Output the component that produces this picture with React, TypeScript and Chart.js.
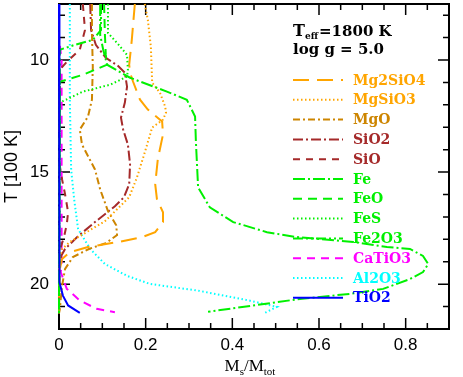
import React, { useEffect, useRef } from 'react';
import { Chart, registerables } from 'chart.js';

Chart.register(...registerables);

// ---------- data (T in 100 K, mass fraction Ms/Mtot) ----------
const T_MG2SIO4 = [7.5, 9.1, 10.21, 10.57, 10.97, 11.77, 12.21, 12.74, 13.32, 14.43, 15.54, 16.21, 16.79, 17.23, 17.68, 17.9, 18.12, 18.34, 18.57, 18.88, 19.32, 21.3];
const X_MG2SIO4 = [0.175, 0.168, 0.162, 0.164, 0.171, 0.187, 0.205, 0.238, 0.24, 0.228, 0.222, 0.226, 0.24, 0.24, 0.222, 0.192, 0.136, 0.067, 0.025, 0.007, 0.002, 0];

const T_MGSIO3 = [7.5, 8.21, 9.41, 11.01, 11.46, 12.08, 12.34, 12.66, 13.01, 14.12, 15.23, 16.12, 16.66, 17.19, 17.72, 18.12, 18.43, 18.79, 19.2, 21.3];
const X_MGSIO3 = [0.198, 0.205, 0.212, 0.215, 0.233, 0.245, 0.247, 0.24, 0.215, 0.198, 0.18, 0.162, 0.134, 0.106, 0.06, 0.025, 0.007, 0.002, 0, 0];

const T_MGO = [7.5, 8.79, 10.3, 11.77, 12.52, 13.1, 13.77, 14.88, 15.77, 16.74, 17.37, 17.81, 18.17, 18.43, 18.79, 19.32, 20.08, 21.1, 21.3];
const X_MGO = [0.076, 0.076, 0.078, 0.076, 0.067, 0.048, 0.053, 0.083, 0.095, 0.113, 0.132, 0.134, 0.108, 0.069, 0.032, 0.014, 0.007, 0.002, 0];

const T_SIO2 = [7.5, 8.66, 9.32, 9.9, 10.26, 10.57, 11.19, 11.9, 12.57, 13.1, 13.77, 14.66, 15.54, 16.12, 16.52, 17.23, 17.86, 18.43, 18.74, 19.1, 19.5, 21.3];
const X_SIO2 = [0.072, 0.074, 0.085, 0.108, 0.136, 0.152, 0.157, 0.152, 0.143, 0.148, 0.159, 0.164, 0.162, 0.15, 0.129, 0.083, 0.044, 0.014, 0.005, 0.002, 0, 0];

const T_SIO = [7.5, 8.66, 9.54, 10.08, 10.43, 14.5, 15.32, 15.99, 16.79, 17.32, 17.86, 18.3, 18.74, 21.3];
const X_SIO = [0.055, 0.06, 0.048, 0.018, 0.002, 0, 0.007, 0.014, 0.021, 0.018, 0.012, 0.005, 0, 0];

const T_FE = [7.5, 8.88, 9.54, 10.21, 10.79, 11.41, 11.77, 12.52, 13.68, 15.68, 16.57, 17.23, 17.68, 17.9, 18.12, 18.34, 18.43, 18.74, 19.1, 19.46, 19.77, 20.21, 20.43, 20.66, 21.23];
const X_FE = [0.095, 0.095, 0.102, 0.111, 0.164, 0.249, 0.295, 0.314, 0.316, 0.321, 0.348, 0.402, 0.48, 0.549, 0.679, 0.757, 0.81, 0.84, 0.852, 0.84, 0.81, 0.748, 0.672, 0.556, 0.344];

const T_FEO = [7.5, 8.88, 9.77, 10.21, 10.66, 10.97, 21.3];
const X_FEO = [0.104, 0.106, 0.108, 0.111, 0.055, 0.002, 0];

const T_FES = [7.5, 8.79, 9.28, 9.77, 10.43, 10.74, 11.1, 11.41, 11.9, 21.3];
const X_FES = [0.113, 0.113, 0.136, 0.157, 0.159, 0.157, 0.118, 0.055, 0.002, 0];

const T_FE2O3 = [7.5, 8.66, 9.1, 9.32, 9.54, 21.3];
const X_FE2O3 = [0.097, 0.097, 0.078, 0.037, 0.002, 0];

const T_CATIO3 = [7.5, 9.0, 10.0, 19.2, 19.46, 20.21, 20.73, 21.1, 21.25];
const X_CATIO3 = [0, 0, 0.006, 0.006, 0.004, 0.018, 0.048, 0.087, 0.129];

const T_AL2O3 = [7.5, 11.77, 14.88, 16.21, 17.54, 18.43, 19.1, 19.63, 19.99, 20.3, 20.74, 21.01, 21.32];
const X_AL2O3 = [0.025, 0.025, 0.028, 0.035, 0.044, 0.072, 0.106, 0.157, 0.21, 0.325, 0.441, 0.503, 0.471];

const T_TIO2 = [7.5, 19.7, 19.91, 20.51, 20.95, 21.28];
const X_TIO2 = [0, 0, 0.002, 0.009, 0.021, 0.048];

const SERIES_NAMES = ['Mg2SiO4', 'MgSiO3', 'MgO', 'SiO2', 'SiO', 'Fe', 'FeO', 'FeS', 'Fe2O3', 'CaTiO3', 'Al2O3', 'TiO2'];
const SERIES_T = [T_MG2SIO4, T_MGSIO3, T_MGO, T_SIO2, T_SIO, T_FE, T_FEO, T_FES, T_FE2O3, T_CATIO3, T_AL2O3, T_TIO2];
const SERIES_X = [X_MG2SIO4, X_MGSIO3, X_MGO, X_SIO2, X_SIO, X_FE, X_FEO, X_FES, X_FE2O3, X_CATIO3, X_AL2O3, X_TIO2];

const X_TICKS = [0, 0.2, 0.4, 0.6, 0.8];
const Y_TICKS = [10, 15, 20];
const X_MIN = 0, X_MAX = 0.9;
const Y_MIN = 7.5, Y_MAX = 22;
const TEFF_TEXT = '=1800 K';
const LOGG_TEXT = 'log g = 5.0';

// ---------- styles ----------
const ORANGE = '#ffa500';
const DKORANGE = '#cd8500';
const BROWN = '#a52a2a';
const GREEN = '#00f000';
const COLORS = [ORANGE, ORANGE, DKORANGE, BROWN, BROWN, GREEN, GREEN, GREEN, GREEN, '#ff00ff', '#00ffff', '#0000ff'];
const DASHES: number[][] = [
  [16, 8],
  [1.5, 2.5],
  [7, 3, 2, 3],
  [10, 3, 2, 3],
  [7, 6],
  [12, 3, 2, 3],
  [9, 6],
  [1.5, 2.5],
  [10, 3, 2, 3, 2, 3],
  [8, 6],
  [1.5, 2.5],
  [],
];
const DRAW_ORDER = [2, 2, 2, 2, 2, 1, 1, 1, 1, 3, 3, 0];

const framePlugin = {
  id: 'frameAndText',
  beforeDatasetsDraw(chart: any) {
    const { ctx, chartArea, scales } = chart;
    const { left, right, top, bottom } = chartArea;
    const xs = scales.x, ys = scales.y;
    ctx.save();
    ctx.strokeStyle = '#000';
    ctx.lineWidth = 1.5;
    ctx.setLineDash([]);
    ctx.beginPath();
    for (let i = 0; i <= 18; i++) {
      const v = i * 0.05;
      const px = xs.getPixelForValue(v);
      const len = i % 4 === 0 ? 11 : 6;
      ctx.moveTo(px, bottom); ctx.lineTo(px, bottom - len);
      ctx.moveTo(px, top); ctx.lineTo(px, top + len);
    }
    for (let t = 8; t <= 22; t++) {
      const py = ys.getPixelForValue(t);
      const len = t % 5 === 0 ? 11 : 6;
      ctx.moveTo(left, py); ctx.lineTo(left + len, py);
      ctx.moveTo(right, py); ctx.lineTo(right - len, py);
    }
    ctx.stroke();
    ctx.lineWidth = 2;
    ctx.strokeRect(left, top, right - left, bottom - top);
    ctx.restore();
  },
  afterDraw(chart: any) {
    const { ctx } = chart;
    ctx.save();
    // Teff / log g
    ctx.fillStyle = '#000';
    ctx.textBaseline = 'alphabetic';
    ctx.textAlign = 'left';
    let x = 293;
    ctx.font = 'bold 16px "DejaVu Serif"';
    ctx.fillText('T', x, 36);
    x += ctx.measureText('T').width;
    ctx.font = 'bold 9px "DejaVu Serif"';
    ctx.fillText('eff', x, 39);
    x += ctx.measureText('eff').width + 1;
    ctx.font = 'bold 15px "DejaVu Serif"';
    ctx.fillText(TEFF_TEXT, x, 36);
    ctx.fillText(LOGG_TEXT, 293, 54);

    // legend
    ctx.font = 'bold 14px "DejaVu Serif"';
    ctx.textBaseline = 'middle';
    SERIES_NAMES.forEach((name, i) => {
      const y = 80 + 19.8 * i;
      ctx.strokeStyle = COLORS[i];
      ctx.lineWidth = 2;
      ctx.setLineDash(DASHES[i]);
      ctx.beginPath();
      ctx.moveTo(293, y);
      ctx.lineTo(343, y);
      ctx.stroke();
      ctx.setLineDash([]);
      ctx.fillStyle = COLORS[i];
      ctx.fillText(name, 353, y + 1);
    });

    // x axis title  Ms/Mtot
    ctx.fillStyle = '#000';
    ctx.textBaseline = 'alphabetic';
    const big = '17px "Liberation Serif"';
    const small = '11px "Liberation Serif"';
    const parts: [string, string, number][] = [['M', big, 0], ['s', small, 4], ['/M', big, 0], ['tot', small, 4]];
    let total = 0;
    parts.forEach(([s, f]) => { ctx.font = f; total += ctx.measureText(s).width; });
    let cx = (chart.chartArea.left + chart.chartArea.right) / 2 - total / 2 - 4;
    parts.forEach(([s, f, dy]) => {
      ctx.font = f;
      ctx.fillText(s, cx, 371 + dy);
      cx += ctx.measureText(s).width;
    });
    ctx.restore();
  },
};

export default function App() {
  const canvasRef = useRef<HTMLCanvasElement | null>(null);

  useEffect(() => {
    document.body.style.margin = '0';
    const canvas = canvasRef.current;
    if (!canvas) return;

    const datasets = SERIES_NAMES.map((name, i) => ({
      label: name,
      data: SERIES_T[i].map((t, j) => ({ x: SERIES_X[i][j], y: t })),
      showLine: true,
      borderColor: COLORS[i],
      backgroundColor: COLORS[i],
      borderWidth: 2,
      borderDash: DASHES[i],
      pointRadius: 0,
      pointHoverRadius: 0,
      fill: false,
      tension: 0,
      clip: false as any,
      order: DRAW_ORDER[i],
    }));

    const chart = new Chart(canvas, {
      type: 'scatter',
      data: { datasets },
      options: {
        animation: false,
        responsive: false,
        devicePixelRatio: 1,
        events: [],
        layout: { padding: { top: 4, right: 14, bottom: 0, left: 0 } },
        plugins: {
          legend: { display: false },
          tooltip: { enabled: false },
        },
        scales: {
          x: {
            type: 'linear',
            position: 'bottom',
            min: X_MIN,
            max: X_MAX,
            grid: { display: false, drawTicks: false },
            border: { display: false },
            ticks: {
              padding: 6,
              color: '#000',
              autoSkip: false,
              maxRotation: 0,
              font: { family: 'Liberation Sans', size: 17 },
              callback: (v: any) => (Number(v) === 0 ? '0' : Number(v).toFixed(1)),
            },
            afterBuildTicks: (s: any) => { s.ticks = X_TICKS.map((v) => ({ value: v })); },
            afterFit: (s: any) => { s.height = 48; s.paddingLeft = 0; s.paddingRight = 0; },
          },
          y: {
            type: 'linear',
            reverse: true,
            min: Y_MIN,
            max: Y_MAX,
            grid: { display: false, drawTicks: false },
            border: { display: false },
            title: {
              display: true,
              text: 'T [100 K]',
              color: '#000',
              font: { family: 'Liberation Sans', size: 18 },
              padding: { top: 1, bottom: 0 },
            },
            ticks: {
              padding: 10,
              color: '#000',
              autoSkip: false,
              font: { family: 'Liberation Sans', size: 17 },
              callback: (v: any) => String(v),
            },
            afterBuildTicks: (s: any) => { s.ticks = Y_TICKS.map((v) => ({ value: v })); },
            afterFit: (s: any) => { s.width = 59; s.paddingTop = 0; s.paddingBottom = 0; },
          },
        },
      },
      plugins: [framePlugin],
    });
    return () => chart.destroy();
  }, []);

  return (
    <div style={{ width: 463, height: 377, background: '#fff' }}>
      <canvas ref={canvasRef} width={463} height={377} />
    </div>
  );
}
